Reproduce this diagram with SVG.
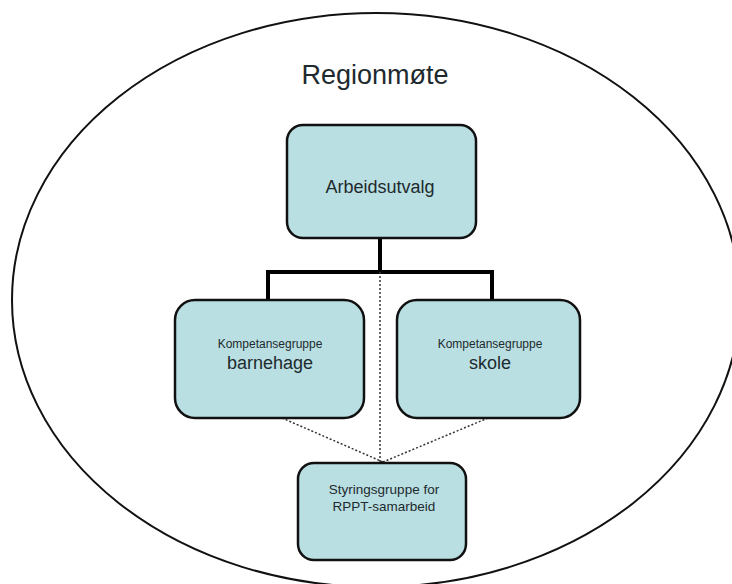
<svg xmlns="http://www.w3.org/2000/svg" width="732" height="584" viewBox="0 0 732 584">
<style>
.box{fill:#b9dfe2;stroke:#111;stroke-width:2.5}
.t{font-family:"Liberation Sans",Arial,sans-serif;fill:#1e2a2e;text-anchor:middle}
.thick{fill:none;stroke:#000;stroke-width:4}
.dot{fill:none;stroke:#333;stroke-width:1.5;stroke-dasharray:2 2}
</style>
<rect width="732" height="584" fill="#fff"/>
<g id="regionmote">
<ellipse cx="376" cy="300" rx="364" ry="287" fill="none" stroke="#111" stroke-width="2"/>
<text class="t" x="375" y="84" font-size="27" fill="#111">Regionmøte</text>
</g>
<g id="connectors">
<path class="thick" d="M380 238 V272 M268 300 V272 H492 V300"/>
<path class="dot" d="M380 272 V462 M282 418 L383 462 M488 418 L383 462"/>
</g>
<g id="arbeidsutvalg">
<rect class="box" x="287" y="125" width="189" height="113" rx="16"/>
<text class="t" x="380" y="193" font-size="18">Arbeidsutvalg</text>
</g>
<g id="barnehage">
<rect class="box" x="175" y="300" width="189" height="118" rx="20"/>
<text class="t" x="270" y="348" font-size="12">Kompetansegruppe</text>
<text class="t" x="270" y="369" font-size="18">barnehage</text>
</g>
<g id="skole">
<rect class="box" x="397" y="300" width="183" height="118" rx="20"/>
<text class="t" x="490" y="348" font-size="12">Kompetansegruppe</text>
<text class="t" x="490" y="369" font-size="18">skole</text>
</g>
<g id="styringsgruppe">
<rect class="box" x="298" y="463" width="168" height="97" rx="16"/>
<text class="t" x="384" y="494" font-size="13.5">Styringsgruppe for</text>
<text class="t" x="384" y="511" font-size="13.5">RPPT-samarbeid</text>
</g>
</svg>
